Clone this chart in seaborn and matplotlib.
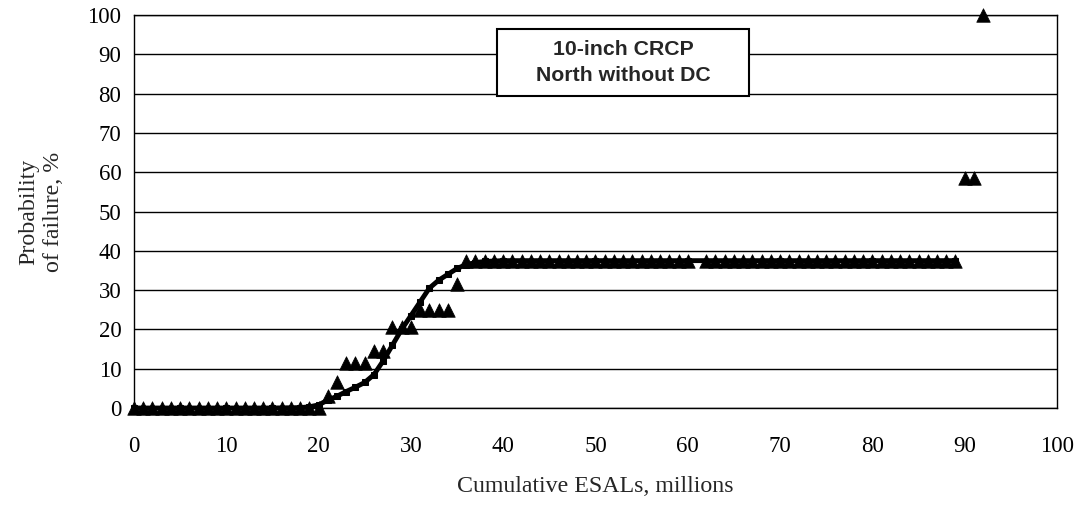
import numpy as np
import pandas as pd
import matplotlib
matplotlib.use("Agg")
import matplotlib.pyplot as plt
import seaborn as sns
from matplotlib.patches import Rectangle

# Observed probability of failure (triangles)
obs_x = [0, 1, 2, 3, 4, 5, 6, 7, 8, 9, 10, 11, 12, 13, 14, 15, 16, 17, 18, 19, 20,
         21, 22, 23, 24, 25, 26, 27, 28, 29, 30, 31, 32, 33, 34, 35,
         36, 37, 38, 39, 40, 41, 42, 43, 44, 45, 46, 47, 48, 49, 50,
         51, 52, 53, 54, 55, 56, 57, 58, 59, 60, 62, 63, 64, 65, 66,
         67, 68, 69, 70, 71, 72, 73, 74, 75, 76, 77, 78, 79, 80, 81,
         82, 83, 84, 85, 86, 87, 88, 89, 90, 91, 92]
obs_y = [0, 0, 0, 0, 0, 0, 0, 0, 0, 0, 0, 0, 0, 0, 0, 0, 0, 0, 0, 0, 0,
         3, 6.5, 11.5, 11.5, 11.5, 14.5, 14.5, 20.5, 20.5, 20.5, 25, 25, 25, 25, 31.5,
         37.5, 37.5, 37.5, 37.5, 37.5, 37.5, 37.5, 37.5, 37.5, 37.5, 37.5, 37.5, 37.5, 37.5, 37.5,
         37.5, 37.5, 37.5, 37.5, 37.5, 37.5, 37.5, 37.5, 37.5, 37.5, 37.5, 37.5, 37.5, 37.5, 37.5,
         37.5, 37.5, 37.5, 37.5, 37.5, 37.5, 37.5, 37.5, 37.5, 37.5, 37.5, 37.5, 37.5, 37.5, 37.5,
         37.5, 37.5, 37.5, 37.5, 37.5, 37.5, 37.5, 37.5, 58.5, 58.5, 100]

# Fitted curve
fit_x = [0, 5, 10, 15, 18, 19, 20, 21, 22, 23, 24, 25, 26, 27, 28, 29, 30,
         31, 32, 33, 34, 35, 36, 37, 38, 40, 50, 60, 70, 80, 89]
fit_y = [0, 0, 0, 0, 0.1, 0.3, 0.8, 2, 3, 4.2, 5.3, 6.5, 8.5, 12, 16, 20, 23.5,
         27, 30.5, 32.5, 34, 35.5, 36.5, 37, 37.3, 37.5, 37.5, 37.5, 37.5, 37.5, 37.5]

obs = pd.DataFrame({"esal": obs_x, "prob": obs_y})
fit = pd.DataFrame({"esal": fit_x, "prob": fit_y})

sns.set_style("white")
plt.rcParams["font.family"] = ["Liberation Serif", "DejaVu Serif"]

fig = plt.figure(figsize=(10.83, 5.09), dpi=100)
ax = fig.add_axes([0.1237, 0.1984, 0.8523, 0.7721])

sns.lineplot(data=fit, x="esal", y="prob", ax=ax, color="black",
             lw=3.5, marker="s", markersize=4, markeredgecolor="black",
             clip_on=False, zorder=4)
sns.scatterplot(data=obs, x="esal", y="prob", ax=ax, marker="^", s=95,
                color="black", edgecolor="black", linewidth=0.5,
                clip_on=False, zorder=5)

ax.set_xlim(0, 100)
ax.set_ylim(0, 100)
ax.set_xticks(np.arange(0, 101, 10))
ax.set_yticks(np.arange(0, 101, 10))
ax.yaxis.grid(True, color="black", linewidth=1)
ax.set_axisbelow(True)
for sp in ax.spines.values():
    sp.set_visible(True)
    sp.set_color("black")
    sp.set_linewidth(1)

ax.tick_params(axis="both", direction="out", length=6, width=1,
               labelsize=16.5, colors="black")
ax.tick_params(axis="x", pad=14)
ax.tick_params(axis="y", pad=3)

ax.set_xlabel("Cumulative ESALs, millions", fontsize=17.2, labelpad=14)
ax.set_ylabel("Probability\nof failure, %", fontsize=17.2, labelpad=17)

# annotation box
ax.add_patch(Rectangle((0.393, 0.794), 0.273, 0.170, transform=ax.transAxes,
                       facecolor="white", edgecolor="black", linewidth=1.5,
                       zorder=6))
ax.text(0.53, 0.879, "10-inch CRCP\nNorth without DC", transform=ax.transAxes,
        ha="center", va="center", fontsize=15.3, fontweight="bold",
        family=["Liberation Sans", "DejaVu Sans"], linespacing=1.5,
        zorder=7)

fig.savefig("out.png", dpi=100)
